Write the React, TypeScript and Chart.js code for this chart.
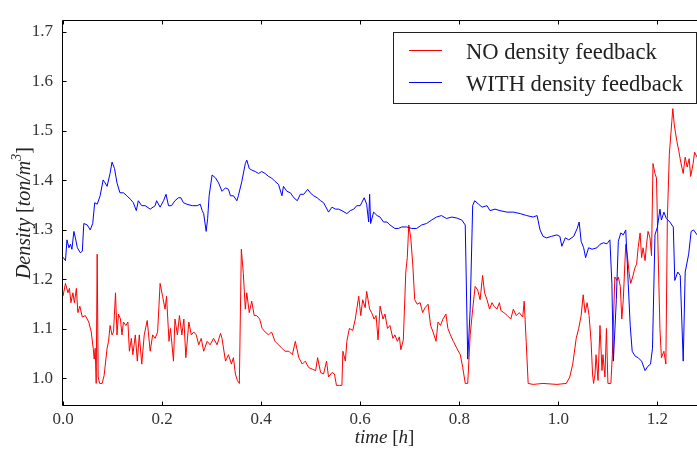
import React, { useEffect, useRef } from "react";
import { Chart, registerables } from "chart.js";

Chart.register(...registerables);

// ---------- data ----------
const seriesLabels = ["NO density feedback", "WITH density feedback"];
const seriesColors = ["#ff0000", "#0000ff"];

const xTickValues = [0, 0.2, 0.4, 0.6, 0.8, 1.0, 1.2];
const yTickValues = [1.0, 1.1, 1.2, 1.3, 1.4, 1.5, 1.6, 1.7];

const redTime = [
  0.000, 0.005, 0.010, 0.013, 0.016, 0.020, 0.023, 0.027, 0.030, 0.034, 0.039, 0.045, 0.052, 0.057, 0.061, 0.063,
  0.065, 0.067, 0.069, 0.071, 0.074, 0.079, 0.083, 0.089, 0.092, 0.095, 0.099, 0.102, 0.106, 0.109, 0.112, 0.116,
  0.119, 0.122, 0.127, 0.131, 0.134, 0.138, 0.141, 0.146, 0.150, 0.154, 0.159, 0.164, 0.170, 0.176, 0.181, 0.186,
  0.191, 0.196, 0.201, 0.206, 0.209, 0.214, 0.217, 0.223, 0.226, 0.231, 0.235, 0.240, 0.244, 0.248, 0.254, 0.259,
  0.264, 0.269, 0.274, 0.279, 0.284, 0.291, 0.297, 0.304, 0.311, 0.318, 0.321, 0.328, 0.334, 0.340, 0.344, 0.348,
  0.352, 0.356, 0.360, 0.364, 0.368, 0.371, 0.376, 0.381, 0.386, 0.391, 0.397, 0.402, 0.408, 0.415, 0.421, 0.428,
  0.435, 0.442, 0.448, 0.456, 0.463, 0.469, 0.476, 0.483, 0.489, 0.496, 0.503, 0.510, 0.514, 0.520, 0.526, 0.532,
  0.536, 0.543, 0.548, 0.552, 0.558, 0.563, 0.565, 0.570, 0.573, 0.578, 0.585, 0.590, 0.597, 0.601, 0.605, 0.610,
  0.613, 0.619, 0.623, 0.628, 0.632, 0.636, 0.640, 0.646, 0.650, 0.655, 0.660, 0.666, 0.670, 0.675, 0.679, 0.682,
  0.687, 0.692, 0.695, 0.698, 0.702, 0.706, 0.710, 0.715, 0.721, 0.726, 0.731, 0.737, 0.742, 0.747, 0.753, 0.757,
  0.762, 0.767, 0.773, 0.777, 0.782, 0.788, 0.795, 0.802, 0.807, 0.812, 0.817, 0.822, 0.827, 0.832, 0.837, 0.842,
  0.847, 0.851, 0.856, 0.861, 0.866, 0.870, 0.876, 0.881, 0.884, 0.890, 0.897, 0.904, 0.909, 0.915, 0.921, 0.928,
  0.931, 0.935, 0.939, 0.949, 0.969, 0.997, 1.016, 1.023, 1.029, 1.036, 1.041, 1.046, 1.050, 1.054, 1.058, 1.062,
  1.066, 1.069, 1.071, 1.074, 1.076, 1.080, 1.084, 1.088, 1.090, 1.094, 1.097, 1.100, 1.106, 1.109, 1.114, 1.118,
  1.121, 1.125, 1.128, 1.131, 1.136, 1.139, 1.143, 1.146, 1.150, 1.155, 1.158, 1.161, 1.165, 1.168, 1.171, 1.175,
  1.178, 1.181, 1.185, 1.188, 1.191, 1.195, 1.198, 1.201, 1.205, 1.208, 1.213, 1.217, 1.220, 1.224, 1.229, 1.231,
  1.234, 1.239, 1.243, 1.247, 1.252, 1.256, 1.260, 1.264, 1.267, 1.272, 1.275, 1.280,
];
const redDensity = [
  1.166, 1.192, 1.173, 1.182, 1.153, 1.173, 1.153, 1.182, 1.133, 1.146, 1.124, 1.127, 1.114, 1.094, 1.061, 1.039,
  1.061, 0.990, 1.251, 1.003, 0.990, 0.990, 1.006, 1.061, 1.075, 1.107, 1.088, 1.094, 1.173, 1.088, 1.130, 1.120,
  1.088, 1.114, 1.107, 1.114, 1.055, 1.081, 1.048, 1.088, 1.035, 1.088, 1.029, 1.088, 1.117, 1.055, 1.088, 1.081,
  1.094, 1.192, 1.166, 1.140, 1.166, 1.075, 1.101, 1.035, 1.120, 1.088, 1.127, 1.088, 1.120, 1.042, 1.114, 1.088,
  1.094, 1.088, 1.068, 1.081, 1.055, 1.075, 1.068, 1.081, 1.068, 1.091, 1.081, 1.035, 1.048, 1.029, 1.042, 1.009,
  0.996, 0.990, 1.261, 1.212, 1.140, 1.173, 1.133, 1.156, 1.127, 1.127, 1.120, 1.101, 1.094, 1.088, 1.094, 1.075,
  1.068, 1.061, 1.055, 1.055, 1.048, 1.075, 1.042, 1.029, 1.035, 1.022, 1.019, 1.016, 1.042, 1.012, 1.009, 1.035,
  1.003, 1.012, 1.009, 0.986, 0.986, 0.986, 1.055, 1.035, 1.075, 1.101, 1.097, 1.120, 1.166, 1.127, 1.159, 1.143,
  1.176, 1.140, 1.133, 1.120, 1.127, 1.078, 1.146, 1.120, 1.130, 1.101, 1.107, 1.081, 1.088, 1.075, 1.084, 1.058,
  1.078, 1.215, 1.244, 1.310, 1.284, 1.231, 1.159, 1.150, 1.153, 1.133, 1.143, 1.150, 1.107, 1.094, 1.075, 1.114,
  1.107, 1.120, 1.130, 1.101, 1.088, 1.075, 1.061, 1.048, 1.022, 0.990, 0.990, 1.088, 1.140, 1.186, 1.179, 1.159,
  1.208, 1.173, 1.159, 1.140, 1.153, 1.146, 1.140, 1.153, 1.137, 1.133, 1.127, 1.120, 1.140, 1.127, 1.133, 1.124,
  1.156, 1.075, 0.990, 0.988, 0.990, 0.988, 0.990, 1.003, 1.029, 1.081, 1.101, 1.127, 1.169, 1.133, 1.153, 1.127,
  1.075, 1.009, 0.990, 1.009, 1.048, 0.996, 1.107, 1.016, 1.048, 1.003, 1.101, 0.990, 0.990, 1.048, 1.205, 1.198,
  1.205, 1.186, 1.120, 1.159, 1.271, 1.251, 1.212, 1.192, 1.205, 1.225, 1.231, 1.264, 1.294, 1.244, 1.264, 1.238,
  1.271, 1.297, 1.284, 1.248, 1.434, 1.414, 1.405, 1.271, 1.101, 1.042, 1.055, 1.029, 1.323, 1.453, 1.519, 1.545,
  1.512, 1.480, 1.460, 1.437, 1.414, 1.447, 1.427, 1.444, 1.408, 1.434, 1.457, 1.447,
];

const blueTime = [
  0.000, 0.005, 0.008, 0.012, 0.015, 0.018, 0.022, 0.025, 0.029, 0.035, 0.039, 0.042, 0.049, 0.055, 0.060, 0.064,
  0.069, 0.075, 0.081, 0.085, 0.089, 0.095, 0.099, 0.104, 0.109, 0.115, 0.122, 0.129, 0.136, 0.142, 0.148, 0.152,
  0.159, 0.166, 0.176, 0.186, 0.189, 0.196, 0.203, 0.208, 0.213, 0.219, 0.226, 0.233, 0.238, 0.243, 0.250, 0.261,
  0.271, 0.277, 0.281, 0.284, 0.289, 0.292, 0.295, 0.301, 0.308, 0.314, 0.321, 0.328, 0.334, 0.338, 0.344, 0.351,
  0.354, 0.361, 0.368, 0.371, 0.376, 0.381, 0.388, 0.395, 0.401, 0.408, 0.415, 0.421, 0.428, 0.435, 0.442, 0.445,
  0.452, 0.459, 0.466, 0.473, 0.479, 0.486, 0.494, 0.499, 0.506, 0.513, 0.520, 0.526, 0.533, 0.536, 0.543, 0.550,
  0.556, 0.563, 0.573, 0.580, 0.587, 0.593, 0.600, 0.608, 0.613, 0.617, 0.619, 0.621, 0.627, 0.634, 0.640, 0.647,
  0.654, 0.660, 0.670, 0.677, 0.684, 0.694, 0.704, 0.714, 0.724, 0.734, 0.744, 0.754, 0.764, 0.774, 0.785, 0.795,
  0.805, 0.812, 0.817, 0.822, 0.827, 0.831, 0.839, 0.846, 0.856, 0.862, 0.872, 0.882, 0.896, 0.909, 0.923, 0.936,
  0.949, 0.957, 0.963, 0.969, 0.976, 0.986, 0.997, 1.003, 1.007, 1.014, 1.021, 1.031, 1.038, 1.042, 1.046, 1.051,
  1.055, 1.061, 1.068, 1.078, 1.084, 1.091, 1.098, 1.104, 1.108, 1.111, 1.117, 1.121, 1.126, 1.131, 1.136, 1.141,
  1.145, 1.149, 1.155, 1.161, 1.168, 1.175, 1.181, 1.186, 1.190, 1.195, 1.200, 1.205, 1.208, 1.213, 1.218, 1.225,
  1.232, 1.235, 1.241, 1.246, 1.252, 1.256, 1.263, 1.268, 1.273, 1.280,
];
const blueDensity = [
  1.245, 1.238, 1.280, 1.264, 1.271, 1.261, 1.297, 1.284, 1.264, 1.254, 1.257, 1.313, 1.310, 1.300, 1.313, 1.355,
  1.352, 1.369, 1.401, 1.395, 1.388, 1.414, 1.437, 1.424, 1.395, 1.375, 1.375, 1.369, 1.362, 1.355, 1.339, 1.359,
  1.349, 1.349, 1.342, 1.349, 1.359, 1.346, 1.359, 1.372, 1.349, 1.349, 1.359, 1.365, 1.365, 1.355, 1.352, 1.349,
  1.349, 1.352, 1.339, 1.333, 1.297, 1.323, 1.369, 1.411, 1.405, 1.395, 1.378, 1.385, 1.382, 1.369, 1.369, 1.359,
  1.369, 1.398, 1.434, 1.441, 1.424, 1.421, 1.418, 1.414, 1.418, 1.414, 1.408, 1.405, 1.398, 1.392, 1.369, 1.388,
  1.378, 1.375, 1.365, 1.359, 1.372, 1.372, 1.382, 1.375, 1.369, 1.365, 1.359, 1.355, 1.342, 1.336, 1.346, 1.342,
  1.342, 1.339, 1.333, 1.339, 1.342, 1.349, 1.349, 1.365, 1.352, 1.316, 1.372, 1.313, 1.336, 1.329, 1.326, 1.316,
  1.316, 1.310, 1.303, 1.303, 1.306, 1.306, 1.303, 1.303, 1.310, 1.313, 1.320, 1.326, 1.329, 1.323, 1.326, 1.324,
  1.320, 1.310, 1.039, 1.140, 1.349, 1.359, 1.352, 1.346, 1.349, 1.339, 1.342, 1.339, 1.336, 1.336, 1.333, 1.329,
  1.326, 1.329, 1.300, 1.287, 1.284, 1.287, 1.290, 1.287, 1.267, 1.284, 1.280, 1.287, 1.303, 1.316, 1.277, 1.264,
  1.244, 1.264, 1.261, 1.264, 1.271, 1.274, 1.272, 1.280, 1.192, 1.035, 1.159, 1.277, 1.294, 1.290, 1.300, 1.192,
  1.107, 1.055, 1.045, 1.042, 1.035, 1.016, 1.025, 1.029, 1.061, 1.290, 1.306, 1.342, 1.320, 1.336, 1.323, 1.316,
  1.306, 1.198, 1.215, 1.208, 1.035, 1.215, 1.251, 1.297, 1.300, 1.290,
];

const X_MIN = 0;
const X_MAX = 1.298;
const Y_MIN = 0.9444;
const Y_MAX = 1.7236;

const SERIF = "'Liberation Serif', 'DejaVu Serif', serif";

type Piece = { t: string; it?: boolean; sup?: boolean };

function drawPieces(ctx: CanvasRenderingContext2D, pieces: Piece[], size: number) {
  const fontFor = (p: Piece) =>
    `${p.it ? "italic " : ""}${p.sup ? Math.round(size * 0.7) : size}px ${SERIF}`;
  let total = 0;
  const widths = pieces.map((p) => {
    ctx.font = fontFor(p);
    const w = ctx.measureText(p.t).width;
    total += w;
    return w;
  });
  let x = -total / 2;
  pieces.forEach((p, i) => {
    ctx.font = fontFor(p);
    ctx.fillText(p.t, x, p.sup ? -size * 0.38 : 0);
    x += widths[i];
  });
}

const framePlugin = {
  id: "framePlugin",
  afterDraw(chart: any) {
    const { ctx, chartArea } = chart;
    const { left, top, right, bottom } = chartArea;
    const xs = chart.scales.x;
    const ys = chart.scales.y;
    ctx.save();
    ctx.strokeStyle = "#000";
    ctx.lineWidth = 1;
    const L = Math.round(left) - 0.5;
    const T = Math.round(top) + 0.5;
    const B = Math.round(bottom) - 0.5;
    const R = Math.round(right) - 0.5;
    ctx.beginPath();
    ctx.moveTo(L, T);
    ctx.lineTo(R, T);
    ctx.lineTo(R, B);
    ctx.lineTo(L, B);
    ctx.closePath();
    ctx.stroke();
    // inward tick marks
    ctx.beginPath();
    xTickValues.forEach((v) => {
      const px = Math.round(xs.getPixelForValue(v)) + 0.5;
      ctx.moveTo(px, B);
      ctx.lineTo(px, B - 4);
      ctx.moveTo(px, T);
      ctx.lineTo(px, T + 4);
    });
    yTickValues.forEach((v) => {
      const py = Math.round(ys.getPixelForValue(v)) + 0.5;
      ctx.moveTo(L, py);
      ctx.lineTo(L + 4, py);
      ctx.moveTo(R, py);
      ctx.lineTo(R - 4, py);
    });
    ctx.stroke();

    // axis titles
    ctx.fillStyle = "#222";
    ctx.textBaseline = "middle";
    ctx.textAlign = "left";
    ctx.save();
    ctx.translate((left + right) / 2, 438);
    drawPieces(ctx, [{ t: "time", it: true }, { t: " [" }, { t: "h", it: true }, { t: "]" }], 19);
    ctx.restore();
    ctx.save();
    ctx.translate(25, (top + bottom) / 2);
    ctx.rotate(-Math.PI / 2);
    drawPieces(
      ctx,
      [{ t: "Density", it: true }, { t: " [" }, { t: "ton/m", it: true }, { t: "3", it: true, sup: true }, { t: "]" }],
      20
    );
    ctx.restore();

    // legend
    const bx = right - 313;
    const by = top + 12;
    const bw = 303;
    const bh = 71;
    ctx.fillStyle = "#fff";
    ctx.fillRect(bx, by, bw, bh);
    ctx.strokeStyle = "#222";
    ctx.strokeRect(Math.round(bx) + 0.5, Math.round(by) + 0.5, bw, bh);
    const rows = [by + 17.5, by + 50];
    chart.data.datasets.forEach((ds: any, i: number) => {
      const y = Math.round(rows[i]) + 0.5;
      ctx.strokeStyle = ds.borderColor;
      ctx.beginPath();
      ctx.moveTo(bx + 16, y);
      ctx.lineTo(bx + 49, y);
      ctx.stroke();
      ctx.fillStyle = "#222";
      ctx.font = `22.6px ${SERIF}`;
      ctx.textBaseline = "alphabetic";
      ctx.textAlign = "left";
      ctx.fillText(ds.label, bx + 73, y + 8);
    });
    ctx.restore();
  },
};

export default function App() {
  const ref = useRef<HTMLCanvasElement | null>(null);
  useEffect(() => {
    if (!ref.current) return;
    const redPts = redTime.map((t, i) => ({ x: t, y: redDensity[i] }));
    const bluePts = blueTime.map((t, i) => ({ x: t, y: blueDensity[i] }));
    const chart = new Chart(ref.current, {
      type: "line",
      data: {
        datasets: [
          {
            label: seriesLabels[0],
            data: redPts,
            borderColor: seriesColors[0],
            borderWidth: 1,
            pointRadius: 0,
            tension: 0,
            order: 1,
          },
          {
            label: seriesLabels[1],
            data: bluePts,
            borderColor: seriesColors[1],
            borderWidth: 1,
            pointRadius: 0,
            tension: 0,
            order: 0,
          },
        ],
      },
      options: {
        animation: false,
        responsive: false,
        devicePixelRatio: 1,
        layout: { padding: { left: 0, top: 9, right: 6, bottom: 0 } },
        plugins: { legend: { display: false }, tooltip: { enabled: false } },
        scales: {
          x: {
            type: "linear",
            min: X_MIN,
            max: X_MAX,
            grid: { display: false, drawTicks: false },
            border: { display: false },
            afterFit: (s: any) => {
              s.height = 44;
            },
            afterBuildTicks: (s: any) => {
              s.ticks = xTickValues.map((v) => ({ value: v }));
            },
            ticks: {
              padding: 3,
              maxRotation: 0,
              autoSkip: false,
              color: "#333",
              font: { family: SERIF, size: 17 },
              callback: (v: any) => Number(v).toFixed(1),
            },
          },
          y: {
            type: "linear",
            min: Y_MIN,
            max: Y_MAX,
            grid: { display: false, drawTicks: false },
            border: { display: false },
            afterFit: (s: any) => {
              s.width = 63;
            },
            afterBuildTicks: (s: any) => {
              s.ticks = yTickValues.map((v) => ({ value: v }));
            },
            ticks: {
              padding: 10,
              autoSkip: false,
              color: "#333",
              font: { family: SERIF, size: 17 },
              callback: (v: any) => Number(v).toFixed(1),
            },
          },
        },
      },
      plugins: [framePlugin],
    });
    return () => chart.destroy();
  }, []);
  return (
    <div
      style={{
        position: "fixed",
        left: 0,
        top: 0,
        width: 697,
        height: 450,
        overflow: "hidden",
        background: "#fff",
      }}
    >
      <canvas ref={ref} width={712} height={450} style={{ display: "block" }} />
    </div>
  );
}
